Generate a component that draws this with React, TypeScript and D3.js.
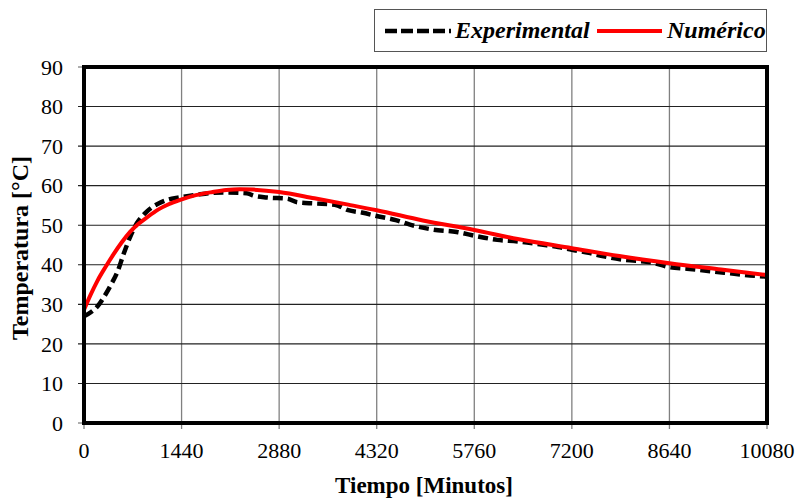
import React, { useRef, useEffect } from 'react';
import * as d3 from 'd3';

// minutos
const expTime = [0, 100, 200, 300, 400, 500, 580, 680, 780, 900, 1000, 1100, 1250, 1400, 1700, 2050, 2400, 2500, 2700, 3000, 3150, 3400, 3700, 3900, 4100, 4350, 4600, 4800, 5150, 5500, 5800, 6100, 6400, 6750, 7000, 7200, 7450, 7650, 7950, 8400, 8640, 8900, 9450, 9900, 10080];
const expTemp = [27, 28, 29.5, 32, 35, 38.5, 42.5, 47, 50.5, 53, 54.5, 55.5, 56.5, 57, 57.8, 58.3, 58.1, 57.5, 57, 56.7, 55.8, 55.5, 55.2, 53.8, 53.2, 52.2, 51.3, 50.2, 48.9, 48.3, 47.2, 46.3, 45.9, 45.1, 44.5, 43.8, 43, 42.2, 41.3, 40.5, 39.4, 39, 38, 37.2, 37];

const numTime = [0, 100, 200, 320, 430, 550, 680, 800, 930, 1100, 1250, 1420, 1650, 1900, 2100, 2300, 2500, 2880, 3400, 3900, 4320, 5000, 5760, 6400, 7200, 7900, 8640, 9400, 10080];
const numTemp = [28.6, 32.5, 36, 39.5, 42.5, 45.5, 48.3, 50.3, 52, 54, 55.3, 56.4, 57.6, 58.4, 58.9, 59.1, 59, 58.4, 56.8, 55.2, 53.8, 51.2, 48.8, 46.5, 44.2, 42.2, 40.4, 38.8, 37.4];

const xTicks = [0, 1440, 2880, 4320, 5760, 7200, 8640, 10080];
const yTicks = [0, 10, 20, 30, 40, 50, 60, 70, 80, 90];

const W = 798;
const H = 500;
const m = { left: 84, right: 31, top: 67, bottom: 77 };
const FONT = '"Liberation Serif", "Times New Roman", serif';

const App = () => {
  const ref = useRef<SVGSVGElement>(null);

  useEffect(() => {
    const svg = d3.select(ref.current);
    svg.selectAll('*').remove();

    const x = d3.scaleLinear().domain([0, 10080]).range([m.left, W - m.right]);
    const y = d3.scaleLinear().domain([0, 90]).range([H - m.bottom, m.top]);

    svg.append('rect').attr('width', W).attr('height', H).attr('fill', '#fff');

    // grid
    svg.append('g').selectAll('line').data(xTicks.slice(1, -1)).enter().append('line')
      .attr('x1', d => x(d)).attr('x2', d => x(d))
      .attr('y1', y(90)).attr('y2', y(0) + 6)
      .attr('stroke', '#808080').attr('stroke-width', 1.3);
    svg.append('g').selectAll('line').data(yTicks.slice(1, -1)).enter().append('line')
      .attr('x1', x(0) - 6).attr('x2', x(10080))
      .attr('y1', d => y(d)).attr('y2', d => y(d))
      .attr('stroke', '#222').attr('stroke-width', 1.1);

    // tick marks at ends
    svg.append('g').selectAll('line').data([0, 90]).enter().append('line')
      .attr('x1', x(0) - 6).attr('x2', x(0))
      .attr('y1', d => y(d)).attr('y2', d => y(d))
      .attr('stroke', '#808080').attr('stroke-width', 1.3);
    svg.append('g').selectAll('line').data([0, 10080]).enter().append('line')
      .attr('x1', d => x(d)).attr('x2', d => x(d))
      .attr('y1', y(0)).attr('y2', y(0) + 6)
      .attr('stroke', '#808080').attr('stroke-width', 1.3);

    // series
    const line = d3.line<[number, number]>()
      .x(d => x(d[0])).y(d => y(d[1]))
      .curve(d3.curveMonotoneX);

    svg.append('path')
      .datum(expTime.map((t, i) => [t, expTemp[i]] as [number, number]))
      .attr('d', line)
      .attr('fill', 'none')
      .attr('stroke', '#000')
      .attr('stroke-width', 4.5)
      .attr('stroke-dasharray', '10,5');

    svg.append('path')
      .datum(numTime.map((t, i) => [t, numTemp[i]] as [number, number]))
      .attr('d', line)
      .attr('fill', 'none')
      .attr('stroke', '#ff0000')
      .attr('stroke-width', 4);

    // frame
    svg.append('rect')
      .attr('x', x(0)).attr('y', y(90))
      .attr('width', x(10080) - x(0)).attr('height', y(0) - y(90))
      .attr('fill', 'none').attr('stroke', '#000').attr('stroke-width', 4);

    // tick labels
    svg.append('g').selectAll('text').data(yTicks).enter().append('text')
      .attr('x', x(0) - 21).attr('y', d => y(d))
      .attr('dy', '0.35em').attr('text-anchor', 'end')
      .attr('font-family', FONT).attr('font-size', 22)
      .text(d => d);
    svg.append('g').selectAll('text').data(xTicks).enter().append('text')
      .attr('x', d => x(d)).attr('y', 458)
      .attr('text-anchor', 'middle')
      .attr('font-family', FONT).attr('font-size', 22)
      .text(d => d);

    // axis titles
    svg.append('text')
      .attr('x', 424).attr('y', 493)
      .attr('text-anchor', 'middle')
      .attr('font-family', FONT).attr('font-size', 23).attr('font-weight', 'bold')
      .text('Tiempo [Minutos]');
    svg.append('text')
      .attr('transform', `translate(28,248) rotate(-90)`)
      .attr('text-anchor', 'middle')
      .attr('font-family', FONT).attr('font-size', 24).attr('font-weight', 'bold')
      .text('Temperatura [°C]');

    // legend
    const lg = svg.append('g');
    lg.append('rect').attr('x', 374.5).attr('y', 9.5).attr('width', 392).attr('height', 42)
      .attr('fill', '#fff').attr('stroke', '#555').attr('stroke-width', 1);
    lg.append('line').attr('x1', 385).attr('x2', 451).attr('y1', 31).attr('y2', 31)
      .attr('stroke', '#000').attr('stroke-width', 4.5).attr('stroke-dasharray', '12,4');
    lg.append('text').attr('x', 455).attr('y', 38)
      .attr('font-family', FONT).attr('font-size', 24).attr('font-style', 'italic').attr('font-weight', 'bold')
      .text('Experimental');
    lg.append('line').attr('x1', 597).attr('x2', 662).attr('y1', 31).attr('y2', 31)
      .attr('stroke', '#ff0000').attr('stroke-width', 4);
    lg.append('text').attr('x', 667).attr('y', 38)
      .attr('font-family', FONT).attr('font-size', 24).attr('font-style', 'italic').attr('font-weight', 'bold')
      .text('Numérico');
  }, []);

  return (
    <svg ref={ref} width={W} height={H} style={{ position: 'absolute', left: 0, top: 0 }} />
  );
};

export default App;
